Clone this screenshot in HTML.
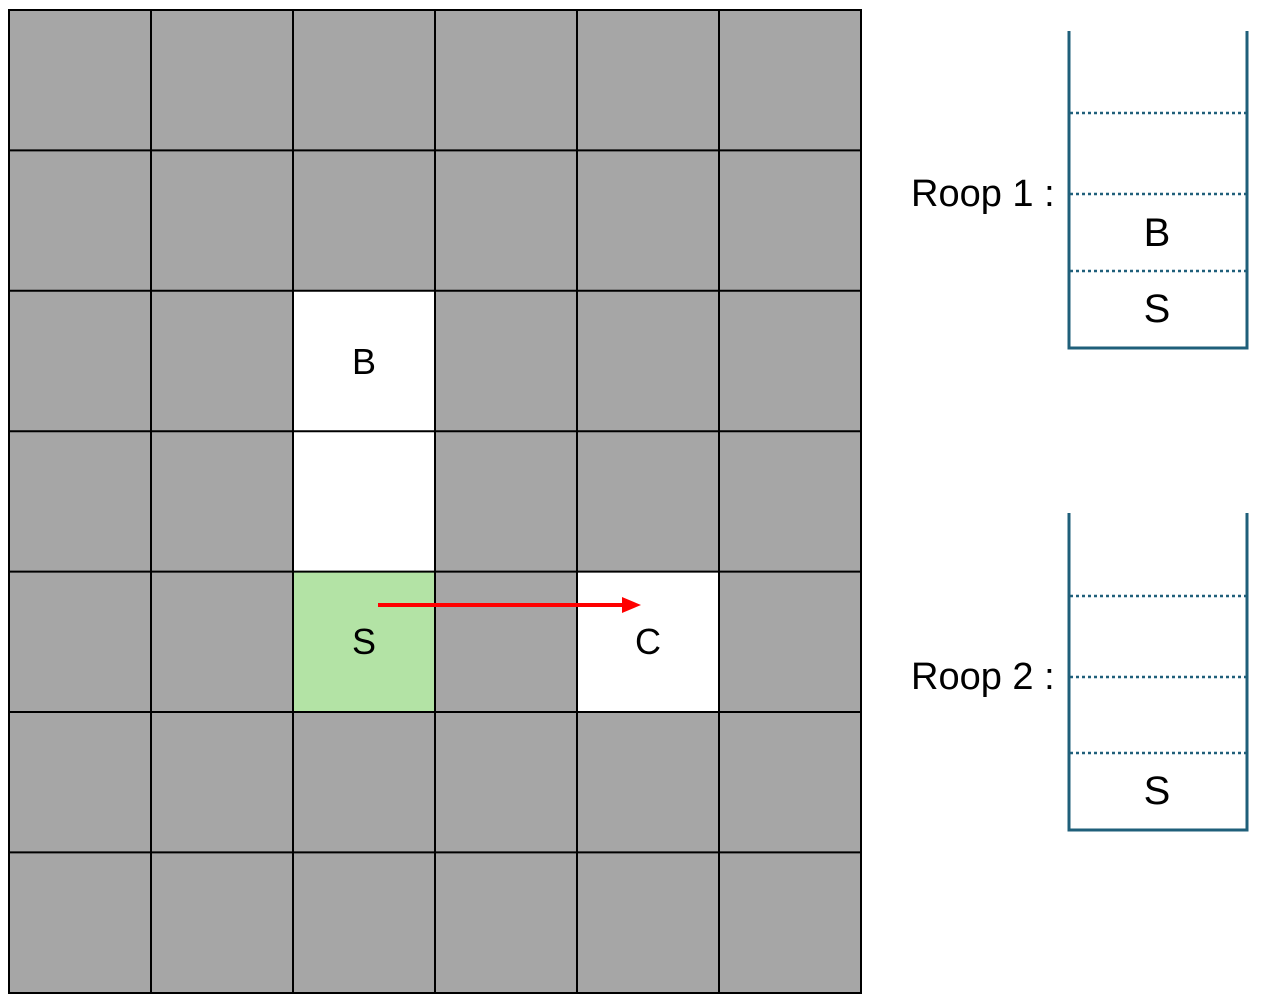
<!DOCTYPE html>
<html><head><meta charset="utf-8"><style>
html,body{margin:0;padding:0;background:#fff;}
svg{display:block;}
text{font-family:"Liberation Sans",sans-serif;fill:#000;}
</style></head><body>
<svg width="1283" height="1002" viewBox="0 0 1283 1002" xmlns="http://www.w3.org/2000/svg">
<rect x="9" y="10" width="852" height="983" fill="#a6a6a6"/>
<rect x="293" y="290.6" width="142" height="140.4" fill="#fff"/>
<rect x="293" y="431" width="142" height="140.4" fill="#fff"/>
<rect x="293" y="571.4" width="142" height="140.4" fill="#b3e3a5"/>
<rect x="577" y="571.4" width="142" height="140.4" fill="#fff"/>
<g stroke="#000" stroke-width="2">
<line x1="9" y1="9" x2="9" y2="994"/>
<line x1="151" y1="9" x2="151" y2="994"/>
<line x1="293" y1="9" x2="293" y2="994"/>
<line x1="435" y1="9" x2="435" y2="994"/>
<line x1="577" y1="9" x2="577" y2="994"/>
<line x1="719" y1="9" x2="719" y2="994"/>
<line x1="861" y1="9" x2="861" y2="994"/>
<line x1="8" y1="10" x2="862" y2="10"/>
<line x1="8" y1="150.4" x2="862" y2="150.4"/>
<line x1="8" y1="290.8" x2="862" y2="290.8"/>
<line x1="8" y1="431.2" x2="862" y2="431.2"/>
<line x1="8" y1="571.6" x2="862" y2="571.6"/>
<line x1="8" y1="712" x2="862" y2="712"/>
<line x1="8" y1="852.4" x2="862" y2="852.4"/>
<line x1="8" y1="993" x2="862" y2="993"/>
</g>
<text x="364" y="374" font-size="36" text-anchor="middle">B</text>
<text x="364" y="654" font-size="36" text-anchor="middle">S</text>
<text x="648" y="654" font-size="36" text-anchor="middle">C</text>
<line x1="378" y1="605" x2="624" y2="605" stroke="#f00" stroke-width="4"/>
<polygon points="622,597 641,605 622,613" fill="#f00"/>

<g stroke="#1f5f7a" stroke-width="3" fill="none">
<polyline points="1069,31 1069,348 1247,348 1247,31"/>
<polyline points="1069,513 1069,830 1247,830 1247,513"/>
</g>
<g stroke="#1f5f7a" stroke-width="2.5" stroke-dasharray="3,3">
<line x1="1070" y1="113" x2="1246" y2="113"/>
<line x1="1070" y1="194" x2="1246" y2="194"/>
<line x1="1070" y1="271" x2="1246" y2="271"/>
<line x1="1070" y1="596" x2="1246" y2="596"/>
<line x1="1070" y1="677" x2="1246" y2="677"/>
<line x1="1070" y1="753" x2="1246" y2="753"/>
</g>
<text x="911" y="206" font-size="38">Roop 1 :</text>
<text x="911" y="689" font-size="38">Roop 2 :</text>
<text x="1157" y="246" font-size="40" text-anchor="middle">B</text>
<text x="1157" y="322" font-size="40" text-anchor="middle">S</text>
<text x="1157" y="804" font-size="40" text-anchor="middle">S</text>
</svg>
</body></html>
